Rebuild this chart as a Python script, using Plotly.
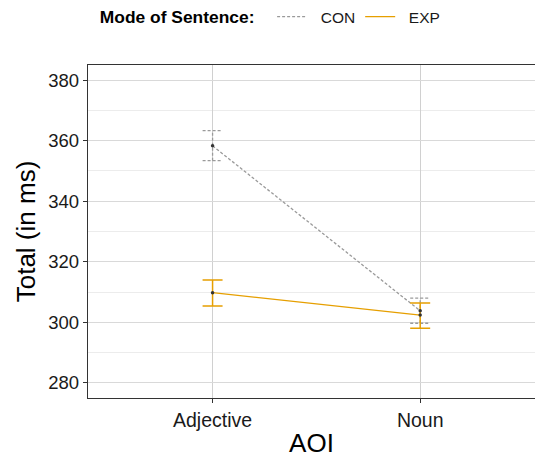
import plotly.graph_objects as go

# Data
categories = ["Adjective", "Noun"]
series_names = ["CON", "EXP"]
con_mean = [358.3, 303.8]
con_hi = [363.3, 308.0]
con_lo = [353.4, 299.7]
exp_mean = [309.8, 302.4]
exp_hi = [314.0, 306.4]
exp_lo = [305.4, 298.0]
y_ticks = [280, 300, 320, 340, 360, 380]

xpos = [i + 1 for i in range(len(categories))]
CAP = 0.048  # cap half width in x units
PAD = "\u00a0\u00a0"

GRAY = "#9a9a9a"
ORANGE = "#E69F00"

fig = go.Figure()

# CON error bars (dashed, manual)
ex, ey = [], []
for x, lo, hi in zip(xpos, con_lo, con_hi):
    ex += [x, x, None, x - CAP, x + CAP, None, x - CAP, x + CAP, None]
    ey += [lo, hi, None, lo, lo, None, hi, hi, None]
fig.add_trace(go.Scatter(x=ex, y=ey, mode="lines", showlegend=False, hoverinfo="skip",
                         line=dict(color=GRAY, width=1.3, dash="3px,2px")))

# CON line
fig.add_trace(go.Scatter(x=xpos, y=con_mean, mode="lines", name=PAD + series_names[0],
                         line=dict(color=GRAY, width=1.3, dash="3px,2px")))

# EXP line with error bars
fig.add_trace(go.Scatter(x=xpos, y=exp_mean, mode="lines", name=PAD + series_names[1],
                         line=dict(color=ORANGE, width=1.3),
                         error_y=dict(type="data", symmetric=False,
                                      array=[h - m for h, m in zip(exp_hi, exp_mean)],
                                      arrayminus=[m - l for m, l in zip(exp_mean, exp_lo)],
                                      color=ORANGE, thickness=1.5, width=10)))

# mean points
fig.add_trace(go.Scatter(x=xpos + xpos, y=con_mean + exp_mean, mode="markers", showlegend=False,
                         marker=dict(color="#333333", size=3.5)))

fig.update_layout(
    width=535, height=459,
    margin=dict(l=88, r=0, t=65, b=61, autoexpand=False),
    plot_bgcolor="white", paper_bgcolor="white",
    font=dict(family="Liberation Sans, Arial, sans-serif", color="#1a1a1a"),
    showlegend=True,
    legend=dict(orientation="h", x=0.022, xanchor="left", y=1.144, yanchor="middle",
                title=dict(text="<b>Mode of Sentence:</b>\u00a0\u00a0", font=dict(size=17.4, color="#000")),
                font=dict(size=15.5, color="#1a1a1a"), itemwidth=30,
                bgcolor="rgba(0,0,0,0)"),
    xaxis=dict(range=[0.4, 2.553], tickvals=xpos, ticktext=categories,
               showgrid=True, gridcolor="#d0d0d0", gridwidth=1,
               showline=True, linecolor="#333333", linewidth=1.3, mirror=True,
               ticks="outside", ticklen=4, tickcolor="#333333", tickwidth=1.2,
               tickfont=dict(size=19.5, color="#1a1a1a"),
               title=dict(text="AOI", font=dict(size=26, color="#000"), standoff=4),
               zeroline=False),
    yaxis=dict(range=[275, 385], tickvals=y_ticks,
               showgrid=True, gridcolor="#d9d9d9", gridwidth=1,
               minor=dict(dtick=10, tick0=270, showgrid=True, gridcolor="#ececec", gridwidth=1),
               showline=True, linecolor="#333333", linewidth=1.3,
               ticks="outside", ticklen=4, tickcolor="#333333", tickwidth=1.2,
               tickfont=dict(size=18.5, color="#1a1a1a"),
               title=dict(text="Total (in ms)", font=dict(size=26, color="#000"), standoff=5),
               zeroline=False),
)

fig.write_html("out.html")
